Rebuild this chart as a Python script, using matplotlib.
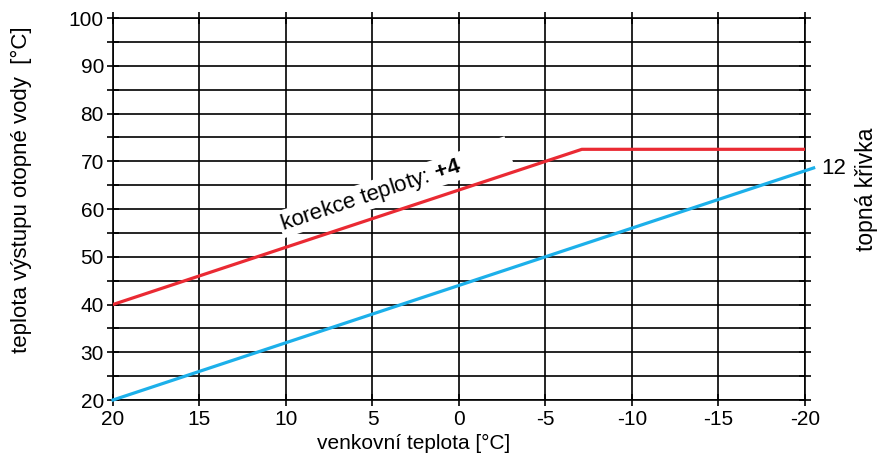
import matplotlib
matplotlib.use("Agg")
import matplotlib.pyplot as plt
import numpy as np

plt.rcParams['font.family'] = ['Liberation Sans', 'DejaVu Sans']
plt.rcParams['mathtext.fontset'] = 'custom'
plt.rcParams['mathtext.bf'] = 'Liberation Sans:bold'

# data
venkovni = [20, -7.1, -20]
korekce = [40, 72.5, 72.5]        # topna krivka 12 + korekce +4
venkovni_12 = [20, -20.5]
krivka_12 = [20, 68.6]

x_ticks = [20, 15, 10, 5, 0, -5, -10, -15, -20]
y_ticks = [20, 30, 40, 50, 60, 70, 80, 90, 100]
y_minor = [25, 35, 45, 55, 65, 75, 85, 95]

fig = plt.figure(figsize=(8.79, 4.59), dpi=100)
ax = fig.add_axes([113/879, 59/459, 692/879, 382/459])

ax.set_xlim(20, -20)
ax.set_ylim(20, 100)
ax.set_xticks(x_ticks)
ax.set_xticklabels([str(v) for v in x_ticks])
ax.set_yticks(y_ticks)
ax.set_yticks(y_minor, minor=True)

ax.grid(True, which='both', color='black', linewidth=1.2)
for s in ax.spines.values():
    s.set_linewidth(1.2)
ax.tick_params(which='both', direction='inout', length=9, width=1.2,
               labelsize=15, right=True, top=True, pad=2)
ax.tick_params(axis='x', pad=3)

ax.plot(venkovni, korekce, color='#EA2A33', linewidth=2.3, zorder=3)
ax.plot(venkovni_12, krivka_12, color='#1CB0EA', linewidth=2.3, zorder=3,
        clip_on=False)

ax.text(10.2, 55.6, 'korekce teploty: $\\mathbf{+4}$         ', rotation=18.3,
        rotation_mode='anchor', ha='left', va='baseline', fontsize=16,
        zorder=2, bbox=dict(facecolor='white', edgecolor='none', pad=1))
ax.text(-20.95, 68.5, '12', fontsize=16, ha='left', va='center',
        clip_on=False)
fig.text(867/879, 1 - 189/459, 'topná křivka', rotation=90, fontsize=16.5,
         ha='center', va='center')

ax.set_xlabel('venkovní teplota [°C]', fontsize=15)
ax.xaxis.set_label_coords(0.435, -0.088)
ax.set_ylabel('teplota výstupu otopné vody  [°C]', fontsize=16)
ax.yaxis.set_label_coords(-0.117, 0.55)

fig.savefig('out.png', dpi=100)
